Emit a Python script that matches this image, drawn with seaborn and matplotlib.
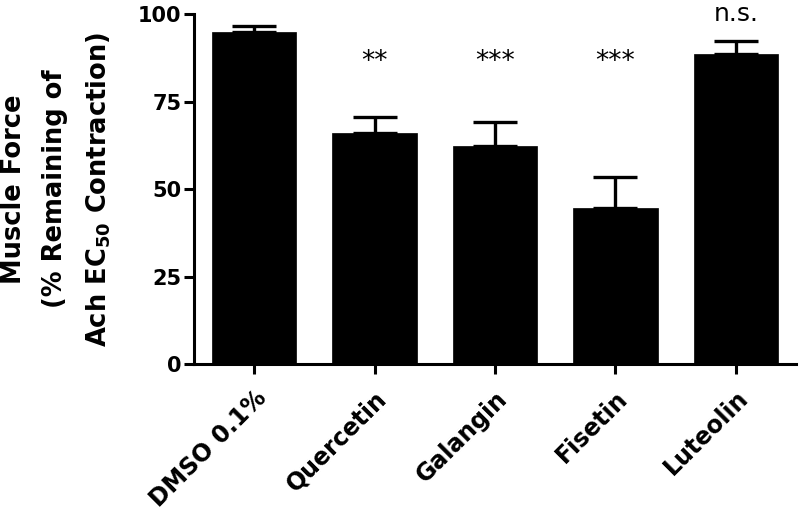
import numpy as np
import pandas as pd
import seaborn as sns
import matplotlib
matplotlib.use("Agg")
import matplotlib.pyplot as plt

# Values (mean and upper SEM)
groups = ["DMSO 0.1%", "Quercetin", "Galangin", "Fisetin", "Luteolin"]
force_mean = [95.0, 66.0, 62.3, 44.6, 88.6]
force_sem = [1.6, 4.6, 6.8, 8.8, 3.7]
stars = ["", "**", "***", "***", "n.s."]

sns.set_style("ticks")
plt.rcParams["font.family"] = ["DejaVu Sans"]
for key in ["text.color", "axes.labelcolor", "xtick.color", "ytick.color",
            "axes.edgecolor"]:
    plt.rcParams[key] = "black"

df = pd.DataFrame({"group": groups, "force": force_mean})

fig = plt.figure(figsize=(8, 5.12), dpi=100)
ax = fig.add_axes([0.2425, 0.289, 0.7525, 0.6836])

sns.barplot(data=df, x="group", y="force", color="black", width=0.7,
            saturation=1, edgecolor="black", linewidth=0.5, ax=ax)

# upper error bars only
xpos = np.arange(len(groups))
ax.errorbar(xpos, force_mean, yerr=[np.zeros(len(groups)), force_sem],
            fmt="none", ecolor="black", elinewidth=2.4, capsize=15.5,
            capthick=2.4, zorder=3)

# significance marks
for i, s in enumerate(stars):
    if s == "n.s.":
        ax.text(i, 98.0, s, ha="center", va="baseline", fontsize=18,
                clip_on=False)
    elif s:
        ax.text(i, 84.3, s, ha="center", va="baseline", fontsize=19,
                clip_on=False)

ax.set_xlim(-0.5, len(groups) - 0.5)
ax.set_ylim(0, 100)
ax.set_yticks([0, 25, 50, 75, 100])
ax.set_xlabel("")
ax.set_ylabel("Muscle Force\n(% Remaining of\nAch EC$_{\\mathbf{50}}$ Contraction)",
              fontsize=18.5, fontweight="bold", linespacing=1.75, labelpad=18)

sns.despine(ax=ax)
for sp in ["left", "bottom"]:
    ax.spines[sp].set_linewidth(2.2)
ax.tick_params(axis="both", width=2.2, length=7, direction="out")
ax.tick_params(axis="y", labelsize=15, pad=2)
ax.tick_params(axis="x", labelsize=17, pad=9)
for lab in ax.get_yticklabels():
    lab.set_fontweight("bold")
for lab in ax.get_xticklabels():
    lab.set_fontweight("bold")
    lab.set_rotation(45)
    lab.set_ha("right")
    lab.set_va("top")
    lab.set_rotation_mode("anchor")

fig.savefig("out.png", dpi=100)
